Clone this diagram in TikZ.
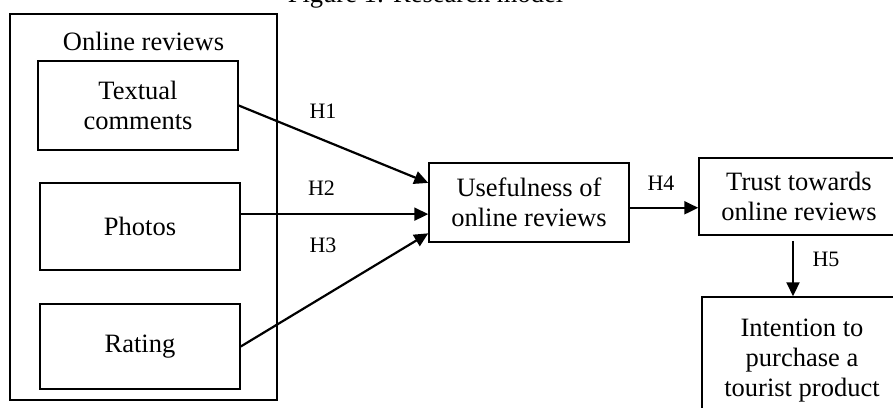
\documentclass[tikz,border=0pt]{standalone}
\usepackage{fontspec}
\setmainfont{Liberation Serif}
\usepackage{tikz}
\usetikzlibrary{positioning,calc,arrows.meta}
\tikzstyle{box} = [draw,line width=0.75pt,minimum width=100pt,align=center,inner sep=0pt]
\tikzstyle{line} = [draw,line width=1.1pt,-{Triangle[length=7pt,width=6.5pt]}]
\tikzstyle{hyp} = [anchor=base,font=\fontsize{11}{13}\selectfont]

\begin{document}
\begin{tikzpicture}[x=0.5pt,y=-0.5pt,font=\fontsize{13.25}{15}\selectfont]
            \path[use as bounding box,clip] (0,0) rectangle (893,407);
            % title, cut by the page edge
            \node[anchor=base] (title) at (425.5,3) {Figure 1: Research model};
            % online reviews group
            \draw[line width=0.6pt] (10,14) rectangle (277,400);
            \node[anchor=base] (reviews) at (143.5,50) {Online reviews};
            \node[box,minimum height=44.5pt] (textual) at (138,105.5) {Textual\\comments};
            \node[box,minimum height=43.5pt] (photos) at (140,226.5) {Photos};
            \node[box,minimum height=42.5pt] (rating) at (140,346.5) {Rating};
            % right part
            \node[box,minimum height=39.5pt] (useful) at (529,202.5) {Usefulness of\\online reviews};
            \node[box,minimum height=38.5pt] (trust) at (799,196.5) {Trust towards\\online reviews};
            \node[box,minimum height=64pt] (intention) at (802,361) {Intention to\\purchase a\\tourist product};
            % arrows
            \draw[line] (textual.east) -- (useful.169.5);
            \draw[line] (photos.7.5) -- (photos.7.5 -| useful.west);
            \draw[line] (rating.east) -- (useful.-163.4);
            \draw[line] (useful.-3.9) -- (useful.-3.9 -| trust.west);
            \coordinate (h5top) at ([xshift=-3pt,yshift=-2.5pt]trust.south);
            \draw[line] (h5top) -- (h5top |- intention.north);
            % hypotheses
            \node[hyp] (h1) at (323,118.3) {H1};
            \node[hyp] (h2) at (321.5,195) {H2};
            \node[hyp] (h3) at (323,252) {H3};
            \node[hyp] (h4) at (661,190.7) {H4};
            \node[hyp] (h5) at (826,266) {H5};
\end{tikzpicture}
\end{document}
